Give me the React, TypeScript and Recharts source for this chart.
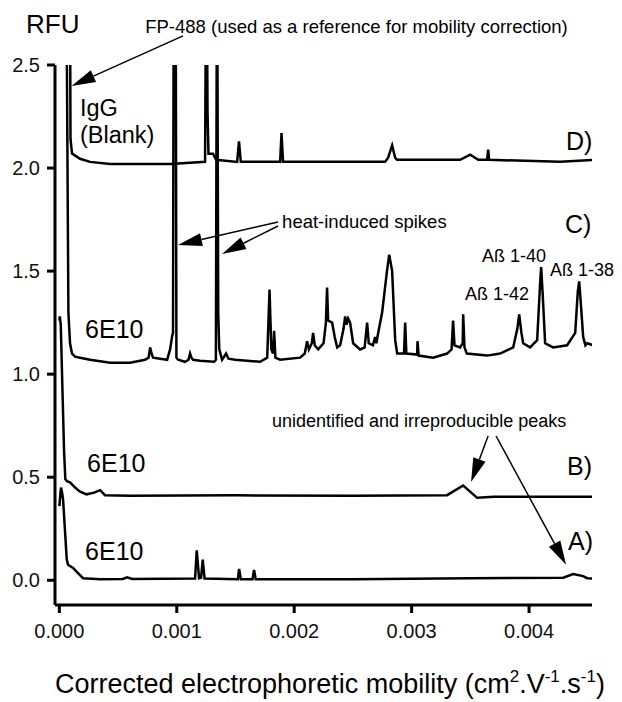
import { LineChart, Line, XAxis, YAxis, ReferenceLine, ReferenceDot } from "recharts";

// mobility in 10^-3 cm2.V-1.s-1, signal in RFU (traces stacked as in the figure)
const traceA: [number, number][] = [
    [0.0, 0.36], [0.014, 0.45], [0.025, 0.42], [0.032, 0.39], [0.063, 0.1], [0.074, 0.075],
    [0.117, 0.06], [0.159, 0.035], [0.202, 0.01], [0.35, 0.005], [0.54, 0.006], [0.577, 0.014],
    [0.62, 0.006], [1.156, 0.008], [1.17, 0.145], [1.19, 0.01], [1.207, 0.012], [1.221, 0.1],
    [1.237, 0.008], [1.52, 0.005], [1.531, 0.055], [1.545, 0.005], [1.645, 0.005], [1.658, 0.05],
    [1.672, 0.005], [2.5, 0.005], [3.5, 0.01], [4.291, 0.012], [4.376, 0.03], [4.46, 0.02],
    [4.495, 0.01], [4.546, 0.008],
];

const traceB: [number, number][] = [
    [0.0, 1.26], [0.004, 1.28], [0.012, 1.24], [0.04, 0.63], [0.051, 0.49], [0.068, 0.48],
    [0.091, 0.475], [0.134, 0.45], [0.176, 0.43], [0.233, 0.417], [0.296, 0.425], [0.347, 0.437],
    [0.389, 0.413], [0.6, 0.41], [1.5, 0.412], [2.5, 0.41], [3.302, 0.413], [3.439, 0.46],
    [3.558, 0.4], [3.7, 0.405], [4.546, 0.405],
];

const traceC: [number, number][] = [
    [0.057, 3.2], [0.077, 1.3], [0.091, 1.15], [0.108, 1.1], [0.134, 1.085], [0.176, 1.08],
    [0.262, 1.07], [0.432, 1.055], [0.602, 1.055], [0.73, 1.07], [0.76, 1.08], [0.773, 1.13],
    [0.785, 1.1], [0.798, 1.08], [0.858, 1.075], [0.918, 1.07], [0.943, 1.12], [0.962, 1.19],
    [0.968, 1.2], [0.975, 3.2], [0.99, 3.2], [0.997, 1.08], [1.011, 1.07], [1.07, 1.06],
    [1.1, 1.07], [1.113, 1.1], [1.125, 1.08], [1.139, 1.07], [1.198, 1.065], [1.318, 1.06],
    [1.333, 1.07], [1.343, 3.2], [1.353, 1.3], [1.362, 1.12], [1.386, 1.07], [1.42, 1.1],
    [1.44, 1.075], [1.497, 1.07], [1.71, 1.06], [1.77, 1.08], [1.79, 1.41], [1.805, 1.12],
    [1.82, 1.1], [1.829, 1.21], [1.84, 1.08], [1.88, 1.07], [2.05, 1.08], [2.09, 1.1],
    [2.11, 1.16], [2.125, 1.12], [2.15, 1.15], [2.161, 1.2], [2.175, 1.14], [2.204, 1.12],
    [2.25, 1.15], [2.27, 1.25], [2.28, 1.42], [2.289, 1.26], [2.323, 1.25], [2.345, 1.18],
    [2.366, 1.13], [2.391, 1.14], [2.42, 1.22], [2.434, 1.28], [2.445, 1.24], [2.459, 1.27],
    [2.476, 1.25], [2.502, 1.15], [2.561, 1.12], [2.6, 1.13], [2.621, 1.25], [2.635, 1.15],
    [2.67, 1.14], [2.689, 1.18], [2.7, 1.15], [2.715, 1.2], [2.749, 1.3], [2.79, 1.5],
    [2.809, 1.58], [2.834, 1.5], [2.86, 1.165], [2.877, 1.1], [2.902, 1.1], [2.935, 1.1],
    [2.945, 1.25], [2.955, 1.1], [3.047, 1.095], [3.05, 1.16], [3.06, 1.09], [3.183, 1.08],
    [3.302, 1.1], [3.34, 1.12], [3.353, 1.26], [3.365, 1.14], [3.413, 1.13], [3.435, 1.15],
    [3.439, 1.29], [3.45, 1.13], [3.47, 1.1], [3.643, 1.09], [3.754, 1.1], [3.865, 1.13],
    [3.9, 1.22], [3.916, 1.29], [3.935, 1.2], [3.95, 1.15], [4.009, 1.13], [4.069, 1.165],
    [4.095, 1.45], [4.103, 1.52], [4.115, 1.4], [4.137, 1.15], [4.205, 1.13], [4.324, 1.14],
    [4.393, 1.2], [4.415, 1.4], [4.427, 1.45], [4.44, 1.35], [4.461, 1.18], [4.48, 1.14],
    [4.495, 1.15], [4.546, 1.14],
];

const traceD: [number, number][] = [
    [0.089, 3.2], [0.095, 2.14], [0.108, 2.07], [0.176, 2.045], [0.262, 2.03], [0.432, 2.02],
    [0.943, 2.02], [1.241, 2.03], [1.252, 3.2], [1.262, 2.27], [1.27, 2.07], [1.309, 2.07],
    [1.335, 2.04], [1.514, 2.03], [1.53, 2.13], [1.545, 2.03], [1.88, 2.03], [1.892, 2.17],
    [1.905, 2.03], [2.774, 2.03], [2.8, 2.05], [2.834, 2.11], [2.86, 2.05], [2.877, 2.04],
    [3.413, 2.04], [3.499, 2.065], [3.567, 2.04], [3.643, 2.04], [3.652, 2.09], [3.66, 2.04],
    [4.265, 2.03], [4.546, 2.04],
];

const xTicks = [0, 0.001, 0.002, 0.003, 0.004];
const yTicks = [0, 0.5, 1, 1.5, 2, 2.5];

// annotation texts, placed in data units (mobility 10^-3, RFU)
const notes = [
    { text: "RFU", m: -0.284, rfu: 2.656, size: 26 },
    { text: "FP-488 (used as a reference for mobility correction)", m: 0.731, rfu: 2.656, size: 18.5 },
    { text: "IgG", m: 0.176, rfu: 2.252, size: 23.5 },
    { text: "(Blank)", m: 0.176, rfu: 2.122, size: 23.5 },
    { text: "D)", m: 4.314, rfu: 2.088, size: 25 },
    { text: "heat-induced spikes", m: 1.897, rfu: 1.709, size: 18.5 },
    { text: "C)", m: 4.306, rfu: 1.685, size: 25 },
    { text: "Aß 1-40", m: 3.6, rfu: 1.544, size: 18 },
    { text: "Aß 1-38", m: 4.178, rfu: 1.476, size: 18 },
    { text: "Aß 1-42", m: 3.455, rfu: 1.36, size: 18 },
    { text: "6E10", m: 0.219, rfu: 1.176, size: 25 },
    { text: "unidentified and irreproducible peaks", m: 1.811, rfu: 0.744, size: 18 },
    { text: "6E10", m: 0.236, rfu: 0.526, size: 25 },
    { text: "B)", m: 4.323, rfu: 0.511, size: 25 },
    { text: "6E10", m: 0.219, rfu: 0.098, size: 25 },
    { text: "A)", m: 4.332, rfu: 0.147, size: 25 },
];

const arrows = [
    { from: [1.053, 2.641], to: [0.104, 2.398] },
    { from: [1.862, 1.738], to: [1.011, 1.627] },
    { from: [1.862, 1.719], to: [1.386, 1.583] },
    { from: [3.651, 0.7], to: [3.506, 0.477] },
    { from: [3.719, 0.7], to: [4.315, 0.075] },
];

const toPoints = (trace: [number, number][]) => trace.map(([m, rfu]) => ({ x: m / 1000, y: rfu }));

const FONT = '"Liberation Sans", Arial, sans-serif';

function Arrow(props: any) {
    const { x1, y1, x2, y2 } = props;
    const dx = x2 - x1;
    const dy = y2 - y1;
    const len = Math.hypot(dx, dy) || 1;
    const ux = dx / len;
    const uy = dy / len;
    const head = 24;
    const half = 6.5;
    const bx = x2 - ux * head;
    const by = y2 - uy * head;
    const pts = `${x2},${y2} ${bx - uy * half},${by + ux * half} ${bx + uy * half},${by - ux * half}`;
    return (
        <g>
            <line x1={x1} y1={y1} x2={bx} y2={by} stroke="#000" strokeWidth={1.5} />
            <polygon points={pts} fill="#000" />
        </g>
    );
}

export default function App() {
    return (
        <div style={{ position: "absolute", left: 0, top: 0, width: 622, height: 702, background: "#fff", fontFamily: FONT }}>
            <LineChart width={622} height={702} margin={{ top: 65, right: 30, bottom: 57, left: 10 }}>
                <XAxis
                    type="number"
                    dataKey="x"
                    domain={[-0.000037, 0.004536]}
                    allowDataOverflow
                    ticks={xTicks}
                    tickFormatter={(v) => v.toFixed(3)}
                    height={40}
                    tickSize={8}
                    tickMargin={11}
                    axisLine={{ stroke: "#000", strokeWidth: 3 }}
                    tickLine={{ stroke: "#000", strokeWidth: 3 }}
                    tick={{ fontSize: 20, fill: "#111", fontFamily: FONT }}
                />
                <YAxis
                    type="number"
                    dataKey="y"
                    domain={[-0.12, 2.5]}
                    allowDataOverflow
                    ticks={yTicks}
                    tickFormatter={(v) => v.toFixed(1)}
                    width={45}
                    tickSize={8}
                    tickMargin={7}
                    axisLine={{ stroke: "#000", strokeWidth: 3 }}
                    tickLine={{ stroke: "#000", strokeWidth: 3 }}
                    tick={{ fontSize: 20, fill: "#111", fontFamily: FONT }}
                />

                {[traceA, traceB, traceC, traceD].map((t, i) => (
                    <Line
                        key={i}
                        data={toPoints(t)}
                        dataKey="y"
                        type="linear"
                        stroke="#000"
                        strokeWidth={2.5}
                        dot={false}
                        isAnimationActive={false}
                    />
                ))}

                {arrows.map((a, i) => (
                    <ReferenceLine
                        key={"a" + i}
                        segment={[
                            { x: a.from[0] / 1000, y: a.from[1] },
                            { x: a.to[0] / 1000, y: a.to[1] },
                        ]}
                        ifOverflow="visible"
                        shape={(p: any) => <Arrow {...p} />}
                    />
                ))}

                {notes.map((n, i) => (
                    <ReferenceDot
                        key={"n" + i}
                        x={n.m / 1000}
                        y={n.rfu}
                        r={0}
                        ifOverflow="visible"
                        shape={(p: any) => (
                            <text x={p.cx} y={p.cy} fontSize={n.size} fill="#000" fontFamily={FONT}>
                                {n.text}
                            </text>
                        )}
                    />
                ))}

                <ReferenceDot
                    x={-0.000037}
                    y={-0.546}
                    r={0}
                    ifOverflow="visible"
                    shape={(p: any) => (
                        <text x={p.cx} y={p.cy} fontSize={27} fill="#000" fontFamily={FONT}>
                            Corrected electrophoretic mobility (cm
                            <tspan dy={-11} fontSize={17}>2</tspan>
                            <tspan dy={11}>.V</tspan>
                            <tspan dy={-11} fontSize={17}>-1</tspan>
                            <tspan dy={11}>.s</tspan>
                            <tspan dy={-11} fontSize={17}>-1</tspan>
                            <tspan dy={11}>)</tspan>
                        </text>
                    )}
                />
            </LineChart>
        </div>
    );
}
